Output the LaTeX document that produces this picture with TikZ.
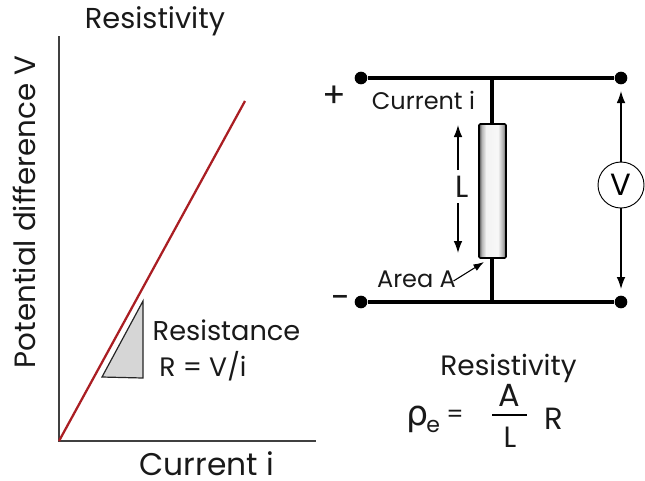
\documentclass[tikz,border=0pt]{standalone}
\usepackage{fontspec}
\setmainfont{Poppins}
\newfontfamily\rhofont{DejaVu Sans}
\usetikzlibrary{arrows.meta}
\pgfdeclarehorizontalshading{rodshade}{100bp}{
  color(0bp)=(black!70);color(25bp)=(black!70);color(30bp)=(black!30);color(38bp)=(black!5);
  color(60bp)=(black!3);color(69bp)=(black!30);color(75bp)=(black!65);color(100bp)=(black!65)}
\begin{document}
\begin{tikzpicture}[x=0.75pt,y=-0.75pt,
  lbl/.style={inner sep=0pt,text=black!90},
  big/.style={lbl,font=\fontsize{22}{24}\selectfont},
  mid/.style={lbl,font=\fontsize{21}{24}\selectfont},
  small/.style={lbl,font=\fontsize{18}{20}\selectfont},
  wire/.style={line width=2.5pt,black},
  axisline/.style={line width=1.4pt,black!75},
  dimarrow/.style={line width=1pt,black,-{Latex[length=9pt,width=6.5pt]}},
  dot/.style={circle,fill=black,inner sep=0pt,minimum size=9.5pt},
]
\useasboundingbox (0,0) rectangle (645,480);
% graph
\coordinate (o) at (59,441);
\coordinate (ytop) at (59,36);
\coordinate (xend) at (316,441);
\coordinate (lineend) at (245,101);
\draw[axisline] (ytop) -- (o) -- (xend);
\draw[line width=1.7pt,color={rgb,255:red,170;green,30;blue,35}] (o) -- (lineend);
\coordinate (ta) at (102,377);
\coordinate (tb) at (143,301);
\coordinate (tc) at (143,378);
\draw[line width=0.9pt,black!85,fill=black!16] (ta) -- (tb) -- (tc) -- cycle;
\node[lbl,font=\fontsize{21.6}{24}\selectfont,anchor=center] (title) at (155,21) {Resistivity};
\node[big,anchor=center,rotate=90] (ylab) at (24,212) {Potential difference V};
\node[lbl,font=\fontsize{23.5}{26}\selectfont,anchor=center] (xlab) at (207,464) {Current i};
\node[lbl,font=\fontsize{20.4}{24}\selectfont,anchor=center] (res) at (226.5,330) {Resistance};
\node[lbl,font=\fontsize{20}{24}\selectfont,anchor=center] (rform) at (203,366) {R = V/i};
% circuit
\node[dot] (tl) at (361,78) {};
\node[dot] (tr) at (621,78) {};
\node[dot] (bl) at (361,302) {};
\node[dot] (br) at (621,302) {};
\coordinate (tj) at (492,78);
\coordinate (bj) at (492,302);
\draw[wire] (tl) -- (tr);
\draw[wire] (bl) -- (br);
\draw[wire] (tj) -- (bj);
\node[rectangle,rounded corners=1pt,draw=black,line width=1.2pt,minimum width=20.25pt,minimum height=100.5pt,inner sep=0pt,
  shading=rodshade] (rod) at (492.5,191) {};
\node[circle,draw=black,line width=0.7pt,fill=white,minimum size=34.5pt,inner sep=0pt,font=\fontsize{23}{26}\selectfont] (vm) at (621,185) {V};
\coordinate (va) at (621,91);
\coordinate (vb) at (621,289);
\draw[dimarrow] (vm.north) -- (va);
\draw[dimarrow] (vm.south) -- (vb);
\node[lbl,font=\fontsize{23}{26}\selectfont,anchor=center] (L) at (462,187) {L};
\coordinate (la) at (458,125);
\coordinate (lb) at (458,253);
\draw[dimarrow] (458,170) -- (la);
\draw[dimarrow] (458,203) -- (lb);
\node[small,anchor=center] (cur) at (423.5,100.5) {Current i};
\node[small,anchor=center] (area) at (416.5,279.5) {Area A};
\coordinate (areaend) at (484,262);
\draw[line width=0.8pt,black,-{Latex[length=8pt,width=5.5pt]}] (453.5,281) -- (areaend);
\node[lbl,font=\fontsize{26}{28}\selectfont,anchor=center] (plus) at (334,97) {+};
\node[lbl,font=\fontsize{26}{28}\selectfont,anchor=center] (minus) at (341,302) {-};
% formula
\node[mid,anchor=center] (rtitle) at (508.5,368) {Resistivity};
\node[lbl,anchor=base west,font=\rhofont\fontsize{26}{28}\selectfont] (rho) at (406,425) {ρ};
\node[lbl,anchor=base west,font=\fontsize{16.5}{18}\selectfont] (e) at (426,432) {e};
\node[small,anchor=center] (eq) at (455,416) {=};
\node[lbl,font=\fontsize{24}{26}\selectfont,anchor=center] (fa) at (509.5,395) {A};
\node[lbl,font=\fontsize{22}{24}\selectfont,anchor=center] (fl) at (510,437) {L};
\draw[line width=1pt,black] (492,415) -- (527,415);
\node[lbl,font=\fontsize{23}{26}\selectfont,anchor=center] (fr) at (554,419) {R};
\end{tikzpicture}
\end{document}
